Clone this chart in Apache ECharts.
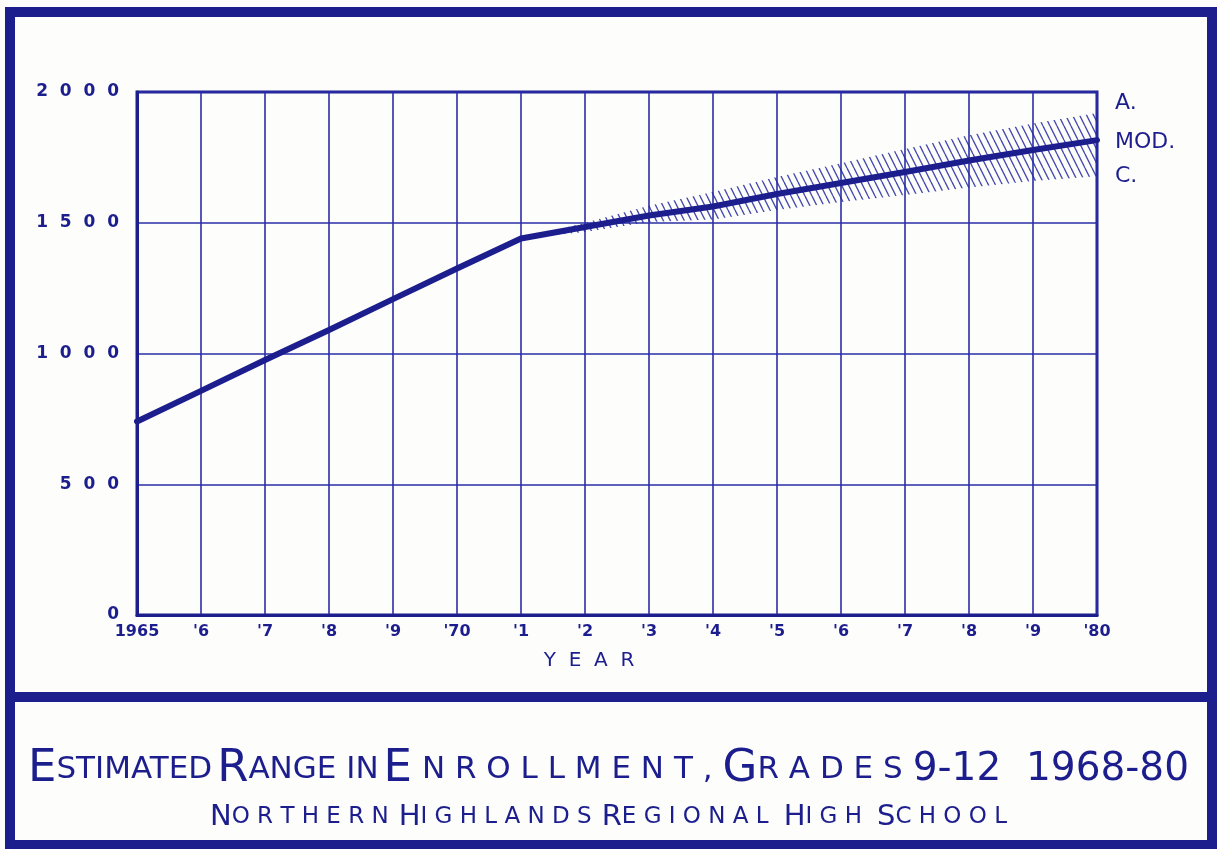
<!DOCTYPE html>
<html>
<head>
<meta charset="utf-8">
<script src="https://cdn.jsdelivr.net/npm/echarts@6/dist/echarts.min.js"></script>
<style>
  html, body { margin: 0; padding: 0; background: #fdfdfb; }
  #chart { width: 1217px; height: 849px; }
</style>
</head>
<body>
<div id="chart"></div>
<script>
// ---- data ----
const years = ['1965', "'6", "'7", "'8", "'9", "'70", "'1", "'2", "'3", "'4", "'5", "'6", "'7", "'8", "'9", "'80"];
const enrollment = [740, 857, 975, 1090, 1208, 1325, 1440, 1484, 1528, 1562, 1610, 1652, 1694, 1738, 1778, 1816];
const rangeHigh = [null, null, null, null, null, null, 1440, 1500, 1565, 1618, 1675, 1728, 1782, 1835, 1880, 1920];
const rangeLow  = [null, null, null, null, null, null, 1440, 1465, 1503, 1512, 1549, 1579, 1606, 1635, 1660, 1678];
const yTicks = [0, 500, 1000, 1500, 2000];
const endLabels = { high: 'A.', mid: 'MOD.', low: 'C.' };

const INK = '#1c1e8e';
const GRIDC = '#2a2ea6';
const FONT = "'DejaVu Sans', 'Liberation Sans', sans-serif";

// hatch pattern for the estimated range band
function hatch() {
  const c = document.createElement('canvas');
  c.width = 7; c.height = 14;
  const g = c.getContext('2d');
  g.strokeStyle = 'rgba(35,40,160,0.85)';
  g.lineWidth = 1.3;
  for (const dx of [-7, 0, 7]) {
    g.beginPath(); g.moveTo(dx, 0); g.lineTo(dx + 7, 14); g.stroke();
  }
  return c;
}

const bandDiff = rangeHigh.map((h, i) => (h == null || rangeLow[i] == null) ? null : h - rangeLow[i]);

const chart = echarts.init(document.getElementById('chart'));
chart.setOption({
  backgroundColor: '#fdfdfb',
  animation: false,
  grid: { left: 137, right: 120, top: 92, bottom: 234, show: true, borderColor: INK, borderWidth: 3, backgroundColor: 'transparent' },
  title: [
    {
      text: '{b|E}{s|STIMATED} {b|R}{s|ANGE IN} {b|E}{s| N R O L L M E N T ,}  {b|G}{s|R A D E S}  {n|9-12  1968-80}',
      left: 'center', top: 742,
      textStyle: {
        rich: {
          b: { fontFamily: FONT, fontSize: 45, color: INK, fontWeight: 'normal' },
          s: { fontFamily: FONT, fontSize: 31, color: INK, fontWeight: 'normal' },
          n: { fontFamily: FONT, fontSize: 39, color: INK, fontWeight: 'normal' }
        }
      }
    },
    {
      text: '{b|N}{s|O R T H E R N}  {b|H}{s|I G H L A N D S}  {b|R}{s|E G I O N A L}   {b|H}{s|I G H}   {b|S}{s|C H O O L}',
      left: 'center', top: 798,
      textStyle: {
        rich: {
          b: { fontFamily: FONT, fontSize: 29, color: INK, fontWeight: 'normal' },
          s: { fontFamily: FONT, fontSize: 23, color: INK, fontWeight: 'normal' }
        }
      }
    }
  ],
  xAxis: {
    type: 'category',
    data: years,
    boundaryGap: false,
    name: 'Y  E  A  R',
    nameLocation: 'middle',
    nameGap: 36,
    nameTextStyle: { fontFamily: FONT, fontSize: 20, color: INK, padding: [0, 56, 0, 0] },
    axisLine: { lineStyle: { color: INK, width: 3 } },
    axisTick: { show: false },
    axisLabel: { color: INK, fontFamily: FONT, fontSize: 16, fontWeight: 'bold', margin: 9, interval: 0 },
    splitLine: { show: true, lineStyle: { color: GRIDC, width: 1.6 } }
  },
  yAxis: {
    type: 'value',
    min: 0, max: 2000, interval: 500,
    axisLine: { show: true, lineStyle: { color: INK, width: 3 } },
    axisTick: { show: false },
    axisLabel: {
      color: INK, fontFamily: FONT, fontSize: 17, fontWeight: 'bold', margin: 18,
      formatter: v => yTicks.includes(v) ? String(v).split('').join('  ') : ''
    },
    splitLine: { show: true, lineStyle: { color: GRIDC, width: 1.6 } }
  },
  series: [
    {
      name: 'low', type: 'line', data: rangeLow, stack: 'band', symbol: 'none',
      lineStyle: { width: 0, opacity: 0 }, z: 2,
      endLabel: { show: true, formatter: endLabels.low, distance: 18, offset: [0, 0], color: INK, fontFamily: FONT, fontSize: 22 }
    },
    {
      name: 'high', type: 'line', data: bandDiff, stack: 'band', symbol: 'none',
      lineStyle: { width: 0, opacity: 0 }, z: 2,
      areaStyle: { color: { image: hatch(), repeat: 'repeat' }, opacity: 1 },
      endLabel: { show: true, formatter: endLabels.high, distance: 18, offset: [0, -10], color: INK, fontFamily: FONT, fontSize: 22 }
    },
    {
      name: 'mid', type: 'line', data: enrollment, symbol: 'none', z: 5,
      lineStyle: { color: INK, width: 6, cap: 'round', join: 'round' },
      endLabel: { show: true, formatter: endLabels.mid, distance: 18, offset: [0, 2], color: INK, fontFamily: FONT, fontSize: 22 }
    }
  ],
  graphic: [
    { type: 'rect', shape: { x: 10, y: 12, width: 1202, height: 833 }, style: { fill: 'none', stroke: INK, lineWidth: 10 }, z: 100 },
    { type: 'line', shape: { x1: 10, y1: 697, x2: 1212, y2: 697 }, style: { stroke: INK, lineWidth: 10 }, z: 100 }
  ]
});
</script>
</body>
</html>
